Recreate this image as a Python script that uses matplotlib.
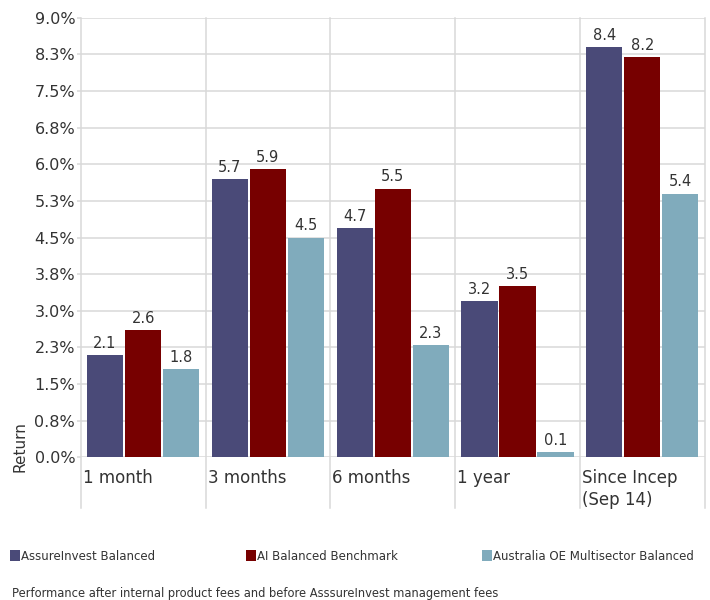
import numpy as np
import matplotlib
matplotlib.use("Agg")
import matplotlib.pyplot as plt
from matplotlib.patches import Patch

# данные графика
categories = ["1 month", "3 months", "6 months", "1 year", "Since Incep\n(Sep 14)"]
series_names = ["AssureInvest Balanced", "AI Balanced Benchmark",
                "Australia OE Multisector Balanced"]
fund = [2.1, 5.7, 4.7, 3.2, 8.4]
benchmark = [2.6, 5.9, 5.5, 3.5, 8.2]
peers = [1.8, 4.5, 2.3, 0.1, 5.4]
ytick_values = [0, 0.75, 1.5, 2.25, 3.0, 3.75, 4.5, 5.25, 6.0, 6.75, 7.5, 8.25, 9.0]
ytick_labels = ["0.0%", "0.8%", "1.5%", "2.3%", "3.0%", "3.8%", "4.5%",
                "5.3%", "6.0%", "6.8%", "7.5%", "8.3%", "9.0%"]
footnote = "Performance after internal product fees and before AsssureInvest management fees"

colors = ["#4a4a78", "#770000", "#80abbc"]
grid_c = "#d9d9d9"
text_c = "#333333"

plt.rcParams["font.family"] = ["DejaVu Sans"]

fig = plt.figure(figsize=(7.1, 6.0), dpi=100)
ax = fig.add_axes([0.1137, 0.2378, 0.8788, 0.7327])

x = np.arange(len(categories))
width = 0.29
step = 0.305
for i, vals in enumerate([fund, benchmark, peers]):
    bars = ax.bar(x + (i - 1) * step, vals, width, color=colors[i], zorder=3)
    for b, v in zip(bars, vals):
        ax.annotate(f"{v:.1f}", (b.get_x() + b.get_width() / 2, v),
                    xytext=(0, 3), textcoords="offset points",
                    ha="center", va="bottom", fontsize=10.5, color=text_c)

ax.set_xlim(-0.5, len(categories) - 0.5)
ax.set_ylim(0, 9)
ax.set_yticks(ytick_values)
ax.set_yticklabels(ytick_labels)
ax.set_xticks([])
ax.tick_params(axis="y", length=3, width=1.1, color=grid_c,
               labelsize=11.5, labelcolor=text_c, pad=1)
ax.yaxis.grid(True, color=grid_c, linewidth=1.1, zorder=0)
for s in ax.spines.values():
    s.set_visible(False)

# вертикальные линии между категориями (уходят под ось)
for b in np.arange(-0.5, len(categories), 1.0):
    ax.axvline(b, ymin=-0.1153, ymax=1, color=grid_c, linewidth=1.1,
               clip_on=False, zorder=1)

for i, c in enumerate(categories):
    ax.annotate(c, (i - 0.5, 0), xycoords=("data", "axes fraction"),
                xytext=(1.5, -8.5), textcoords="offset points",
                ha="left", va="top", fontsize=12, color=text_c,
                linespacing=1.25)

ax.set_ylabel("Return", fontsize=11, color=text_c, labelpad=4)
ax.yaxis.set_label_coords(-0.085, 0.025)

# легенда: три отдельных элемента, как в исходнике
legend_x = [10, 245.5, 481.5]
for name, c, lx in zip(series_names, colors, legend_x):
    fig.legend([Patch(facecolor=c)], [name], loc="center left",
               bbox_to_anchor=(lx / 710, 1 - 556 / 600),
               frameon=False, fontsize=8.5, handlelength=0.85,
               handleheight=0.95, handletextpad=0.12,
               borderaxespad=0, borderpad=0, labelcolor=text_c)

fig.text(12 / 710, 1 - 593 / 600, footnote, fontsize=8.3, color=text_c,
         ha="left", va="center")

fig.savefig("out.png", dpi=100)
